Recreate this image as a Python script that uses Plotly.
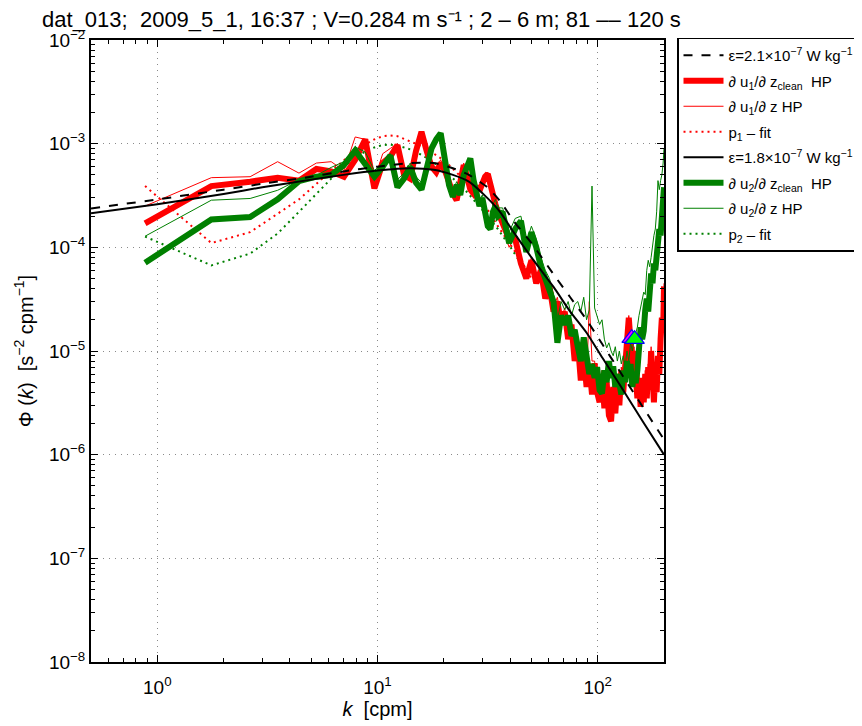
import plotly.graph_objects as go

# ---------------- data ----------------
K_LOW = [0.88, 1.76, 2.64, 3.52, 4.40, 5.28, 6.16, 7.04, 7.92, 8.80,
         9.68, 10.56, 11.44, 12.32, 13.20, 14.08, 14.96, 15.84, 16.72, 17.60,
         18.48, 19.36, 20.24, 21.12, 22.00, 22.88, 23.76, 24.64, 25.52, 26.40,
         27.28, 28.16, 29.04, 29.92, 30.80, 31.68, 32.56, 33.44, 34.32, 35.20]
K_HIGH = [37.0, 39.6, 42.2, 44.8, 47.4, 50.0, 52.6, 55.2, 57.8, 60.4,
          63.0, 65.6, 68.2, 70.8, 73.4, 76.0, 78.6, 81.2, 83.8, 86.4,
          89.0, 91.6, 94.2, 96.8, 99.4, 102.0, 104.6, 107.2, 109.8, 112.4,
          115.0, 117.6, 120.2, 122.8, 125.4, 128.0, 130.6, 133.2, 135.8, 138.4,
          141.0, 143.6, 146.2, 148.8, 151.4, 154.0, 156.6, 159.2, 161.8, 164.4,
          167.0, 169.6, 172.2, 174.8, 177.4, 180.0, 182.6, 185.2, 187.8, 190.4,
          193.0, 195.6, 198.2, 200.0]

# du1/dz clean HP (thick red)
U1C_LOW = [1.7e-4, 3.9e-4, 4.3e-4, 4.7e-4, 4.4e-4, 5.7e-4, 5.4e-4, 4.8e-4, 7.0e-4, 1.1e-3,
           3.7e-4, 6.5e-4, 7.5e-4, 9.7e-4, 5.0e-4, 4.6e-4, 8.5e-4, 1.3e-3, 8.5e-4, 6.0e-4,
           5.3e-4, 6.5e-4, 5.5e-4, 4.0e-4, 3.3e-4, 2.85e-4, 4.5e-4, 6.2e-4, 4.8e-4, 3.6e-4,
           3.3e-4, 3.9e-4, 3.5e-4, 4.2e-4, 4.8e-4, 5.1e-4, 4.0e-4, 3.0e-4, 2.6e-4, 2.2e-4]
U1C_HIGH = [1.7e-4, 1.2e-4, 1.2e-4, 7.0e-5, 5.0e-5, 7.5e-5, 4.5e-5, 6.0e-5, 3.2e-5, 4.2e-5,
            2.4e-5, 3.0e-5, 1.8e-5, 2.4e-5, 1.3e-5, 1.8e-5, 8.0e-6, 1.2e-5, 5.2e-6, 9.0e-6,
            4.5e-6, 7.5e-6, 3.8e-6, 7.6e-6, 4.0e-6, 3.2e-6, 6.0e-6, 2.8e-6, 5.0e-6, 2.4e-6,
            2.1e-6, 4.5e-6, 2.5e-6, 5.0e-6, 3.0e-6, 6.5e-6, 4.0e-6, 8.0e-6, 1.3e-5, 2.1e-5,
            1.2e-5, 7.0e-6, 1.0e-5, 5.0e-6, 3.5e-6, 5.5e-6, 2.9e-6, 4.5e-6, 3.2e-6, 6.0e-6,
            3.5e-6, 7.0e-6, 4.5e-6, 1.0e-5, 5.0e-6, 3.2e-6, 6.5e-6, 4.0e-6, 9.0e-6, 6.0e-6,
            1.3e-5, 2.1e-5, 1.5e-5, 4.2e-5]

# du1/dz HP (thin red)
U1_LOW = [2.5e-4, 4.7e-4, 4.8e-4, 6.7e-4, 5.2e-4, 6.5e-4, 6.7e-4, 5.5e-4, 1.16e-3, 1.1e-3,
          4.5e-4, 8.0e-4, 9.0e-4, 1.0e-3, 6.0e-4, 5.5e-4, 9.0e-4, 1.2e-3, 9.0e-4, 6.5e-4,
          5.8e-4, 7.0e-4, 5.5e-4, 4.2e-4, 3.5e-4, 3.0e-4, 4.8e-4, 6.5e-4, 5.0e-4, 3.8e-4,
          3.5e-4, 4.0e-4, 3.7e-4, 4.4e-4, 5.0e-4, 5.3e-4, 4.2e-4, 3.2e-4, 2.8e-4, 2.4e-4]
U1_HIGH = [1.6e-4, 1.0e-4, 1.3e-4, 8.0e-5, 5.5e-5, 8.0e-5, 5.0e-5, 6.5e-5, 3.6e-5, 4.5e-5,
           2.7e-5, 3.3e-5, 2.0e-5, 2.6e-5, 1.5e-5, 2.0e-5, 9.0e-6, 1.3e-5, 6.0e-6, 1.0e-5,
           5.0e-6, 3.0e-5, 8.0e-6, 8.0e-6, 4.5e-6, 3.6e-6, 6.5e-6, 3.0e-6, 5.5e-6, 2.6e-6,
           2.3e-6, 5.0e-6, 2.8e-6, 5.5e-6, 3.3e-6, 7.0e-6, 4.5e-6, 9.0e-6, 1.4e-5, 2.2e-5,
           1.3e-5, 8.0e-6, 1.1e-5, 5.5e-6, 4.0e-6, 6.0e-6, 3.2e-6, 5.0e-6, 3.5e-6, 6.5e-6,
           4.0e-6, 7.5e-6, 5.0e-6, 1.1e-5, 5.5e-6, 3.5e-6, 7.0e-6, 4.5e-6, 1.0e-5, 7.0e-6,
           1.4e-5, 2.3e-5, 1.7e-5, 4.5e-5]

# du2/dz clean HP (thick green)
U2C_LOW = [7.1e-5, 1.86e-4, 1.96e-4, 2.9e-4, 4.35e-4, 4.8e-4, 5.0e-4, 6.2e-4, 8.6e-4, 6.5e-4,
           4.8e-4, 6.0e-4, 7.7e-4, 3.8e-4, 4.6e-4, 6.0e-4, 4.2e-4, 3.6e-4, 6.0e-4, 9.0e-4,
           1.1e-3, 1.26e-3, 7.0e-4, 4.0e-4, 3.07e-4, 4.0e-4, 3.2e-4, 5.0e-4, 6.0e-4, 7.2e-4,
           4.5e-4, 3.3e-4, 2.5e-4, 3.0e-4, 2.3e-4, 1.6e-4, 1.5e-4, 2.2e-4, 2.5e-4, 2.0e-4]
U2C_HIGH = [2.2e-4, 1.1e-4, 1.5e-4, 1.8e-4, 9.0e-5, 1.4e-4, 1.0e-4, 6.5e-5, 5.0e-5, 4.0e-5,
            3.0e-5, 1.2e-5, 2.2e-5, 1.8e-5, 2.2e-5, 1.4e-5, 1.6e-5, 1.1e-5, 8.0e-6, 1.35e-5,
            9.0e-6, 6.0e-6, 7.5e-6, 5.5e-6, 7.0e-6, 4.2e-6, 3.9e-6, 6.5e-6, 5.0e-6, 8.0e-6,
            5.5e-6, 7.1e-6, 4.5e-6, 6.0e-6, 4.9e-6, 3.8e-6, 6.5e-6, 5.0e-6, 8.0e-6, 5.5e-6,
            7.5e-6, 4.5e-6, 6.0e-6, 4.9e-6, 6.5e-6, 1.0e-5, 1.7e-5, 1.3e-5, 1.56e-5, 2.5e-5,
            3.2e-5, 2.4e-5, 4.2e-5, 5.6e-5, 4.5e-5, 7.0e-5, 6.0e-5, 9.0e-5, 1.17e-4, 1.5e-4,
            1.3e-4, 2.3e-4, 3.0e-4, 3.8e-4]

# du2/dz HP (thin green)
U2_LOW = [1.28e-4, 2.85e-4, 2.96e-4, 3.55e-4, 4.5e-4, 4.95e-4, 5.9e-4, 6.7e-4, 9.3e-4, 8.3e-4,
          5.5e-4, 6.5e-4, 8.0e-4, 4.5e-4, 5.2e-4, 6.5e-4, 4.8e-4, 4.2e-4, 6.5e-4, 9.0e-4,
          1.0e-3, 1.2e-3, 7.5e-4, 4.5e-4, 3.5e-4, 4.3e-4, 3.6e-4, 5.2e-4, 6.2e-4, 7.0e-4,
          4.8e-4, 3.6e-4, 2.8e-4, 3.2e-4, 2.6e-4, 2.0e-4, 1.8e-4, 2.6e-4, 2.9e-4, 2.4e-4]
U2_HIGH = [2.4e-4, 1.4e-4, 1.9e-4, 2.0e-4, 1.1e-4, 1.6e-4, 1.2e-4, 8.0e-5, 6.0e-5, 5.0e-5,
           3.5e-5, 2.0e-5, 3.0e-5, 2.5e-5, 3.0e-5, 2.2e-5, 2.8e-5, 3.0e-5, 2.4e-5, 3.3e-5,
           2.0e-5, 2.5e-5, 3.9e-4, 2.6e-5, 2.2e-5, 1.8e-5, 2.0e-5, 1.3e-5, 1.07e-5, 1.2e-5,
           1.0e-5, 9.0e-6, 1.1e-5, 8.0e-6, 1.0e-5, 7.5e-6, 9.0e-6, 7.0e-6, 1.0e-5, 8.0e-6,
           1.2e-5, 1.0e-5, 1.3e-5, 1.5e-5, 1.7e-5, 2.2e-5, 2.6e-5, 3.2e-5, 3.7e-5, 3.5e-5,
           6.0e-5, 7.5e-5, 6.5e-5, 8.0e-5, 1.1e-4, 1.3e-4, 1.5e-4, 2.2e-4, 4.4e-4, 3.6e-4,
           4.4e-4, 5.0e-4, 6.5e-4, 9.0e-4]

# polynomial fits (dotted)
FIT1_K = [0.88, 1.76, 2.64, 3.52, 4.40, 5.28, 6.16, 7.04, 7.92, 8.80, 9.68, 10.56, 11.44, 12.32,
          13.20, 14.08, 15.84, 17.60, 20.24, 22.88, 25.52, 28.16, 31.68, 35.20, 39.6, 44.8, 50.0, 52.6]
FIT1_V = [3.9e-4, 1.1e-4, 1.4e-4, 2.1e-4, 2.9e-4, 4.1e-4, 5.5e-4, 6.9e-4, 8.5e-4, 9.8e-4, 1.1e-3,
          1.18e-3, 1.2e-3, 1.18e-3, 1.12e-3, 1.05e-3, 9.5e-4, 8.3e-4, 6.8e-4, 5.3e-4, 4.2e-4,
          3.2e-4, 2.3e-4, 1.6e-4, 1.1e-4, 7.5e-5, 5.0e-5, 4.5e-5]
FIT2_K = [0.88, 1.76, 2.64, 3.52, 4.40, 5.28, 6.16, 7.04, 7.92, 8.80, 9.68, 10.56, 11.44, 12.32,
          13.20, 14.08, 15.84, 17.60, 20.24, 22.88, 25.52, 28.16, 31.68, 35.20, 39.6, 44.8]
FIT2_V = [1.27e-4, 6.7e-5, 8.7e-5, 1.36e-4, 2.2e-4, 3.3e-4, 4.6e-4, 6.0e-4, 7.3e-4, 8.4e-4, 9.2e-4,
          9.7e-4, 9.8e-4, 9.6e-4, 9.2e-4, 8.8e-4, 7.8e-4, 6.8e-4, 5.4e-4, 4.3e-4, 3.4e-4,
          2.7e-4, 2.0e-4, 1.5e-4, 1.05e-4, 7.0e-5]

# model spectra
MODEL_K = [0.5, 1, 2, 3, 5, 7, 10, 14, 18, 22, 26, 31.5, 36, 41.5, 50, 63, 75, 89, 105, 127, 160, 200]
MODEL1_V = [2.37e-4, 2.9e-4, 3.6e-4, 4.1e-4, 4.8e-4, 5.4e-4, 6.0e-4, 6.5e-4, 6.5e-4, 5.8e-4, 5.0e-4,
            3.8e-4, 2.8e-4, 1.8e-4, 1.1e-4, 5.5e-5, 3.3e-5, 2.0e-5, 1.16e-5, 6.2e-6, 2.9e-6, 1.4e-6]
MODEL2_V = [2.13e-4, 2.6e-4, 3.27e-4, 3.8e-4, 4.5e-4, 5.0e-4, 5.5e-4, 5.8e-4, 5.6e-4, 5.0e-4, 4.3e-4,
            3.0e-4, 2.2e-4, 1.4e-4, 8.0e-5, 4.15e-5, 2.4e-5, 1.5e-5, 8.6e-6, 4.6e-6, 2.1e-6, 1.0e-6]

# markers
MARK_K = [142.7, 147.0]
MARK_V = [1.33e-5, 1.30e-5]

LEGEND_NAMES = [
    "ε=2.1×10<sup>−7</sup> W kg<sup>−1</sup>",
    "∂ u<sub>1</sub>/∂ z<sub>clean</sub>  HP",
    "∂ u<sub>1</sub>/∂ z HP",
    "p<sub>1</sub> – fit",
    "ε=1.8×10<sup>−7</sup> W kg<sup>−1</sup>",
    "∂ u<sub>2</sub>/∂ z<sub>clean</sub>  HP",
    "∂ u<sub>2</sub>/∂ z HP",
    "p<sub>2</sub> – fit",
]
TITLE = "dat_013;  2009_5_1, 16:37 ; V=0.284 m s⁻¹ ; 2 – 6 m; 81 –– 120 s"

RED = "#ff0000"
GREEN = "#008000"
K = K_LOW + K_HIGH
FIT_DASH = "2px,4px"


def line_trace(x, y, idx, **line):
    return go.Scatter(x=x, y=y, mode="lines", name=LEGEND_NAMES[idx],
                      legendrank=idx + 1, legendgroup="g%d" % idx, line=line)


fig = go.Figure()
fig.add_trace(line_trace(FIT1_K, FIT1_V, 3, color=RED, width=2, dash=FIT_DASH))
fig.add_trace(line_trace(FIT2_K, FIT2_V, 7, color=GREEN, width=2, dash=FIT_DASH))
fig.add_trace(line_trace(K, U1C_LOW + U1C_HIGH, 1, color=RED, width=6))
fig.add_trace(line_trace(K, U1_LOW + U1_HIGH, 2, color=RED, width=1))
fig.add_trace(line_trace(K, U2C_LOW + U2C_HIGH, 5, color=GREEN, width=6))
fig.add_trace(line_trace(K, U2_LOW + U2_HIGH, 6, color=GREEN, width=1))
fig.add_trace(line_trace(MODEL_K, MODEL1_V, 0, color="black", width=2, dash="dash",
                         shape="spline", smoothing=0.6))
fig.add_trace(line_trace(MODEL_K, MODEL2_V, 4, color="black", width=2,
                         shape="spline", smoothing=0.6))
fig.add_trace(go.Scatter(x=MARK_K, y=MARK_V, mode="markers", showlegend=False,
                         marker=dict(symbol="triangle-up", size=17,
                                     color=["#ff00ff", "#00ff00"],
                                     line=dict(color="#0000ff", width=1.2))))

FONT = "Liberation Sans, Arial, Helvetica, sans-serif"

x_major = [1, 10, 100]
x_minor = [m * d for d in [0.1, 1, 10, 100] for m in range(2, 10) if 0.5 <= m * d <= 200]
y_major = [10.0 ** e for e in range(-8, -1)]
y_minor = [m * 10.0 ** e for e in range(-8, -2) for m in range(2, 10)]

axis_common = dict(
    type="log", showline=True, linecolor="black", linewidth=2, mirror="allticks",
    ticks="inside", ticklen=7, tickcolor="black", tickwidth=1,
    showgrid=True, gridcolor="#8a8a8a", griddash="1px,5px", gridwidth=1,
    zeroline=False, tickfont=dict(family=FONT, size=19, color="black"),
)

fig.update_xaxes(
    **axis_common, range=[-0.30103, 2.30103],
    tickmode="array", tickvals=x_major,
    ticktext=["10<sup>0</sup>", "10<sup>1</sup>", "10<sup>2</sup>"],
    ticklabelstandoff=7,
    minor=dict(tickmode="array", tickvals=x_minor, ticks="inside", ticklen=4,
               tickcolor="black", showgrid=False),
    title=dict(text="<i>k</i>  [cpm]", font=dict(family=FONT, size=20, color="black"), standoff=4),
)
fig.update_yaxes(
    **axis_common, range=[-8, -2],
    tickmode="array", tickvals=y_major,
    ticktext=["10<sup>−%d</sup>" % i for i in range(8, 1, -1)],
    minor=dict(tickmode="array", tickvals=y_minor, ticks="inside", ticklen=4,
               tickcolor="black", showgrid=False),
    title=dict(text="Φ (<i>k</i>)  [s<sup>−2</sup> cpm<sup>−1</sup>]",
               font=dict(family=FONT, size=20, color="black"), standoff=10),
)

# page body adds an 8 px offset; plot area in page pixels: x 91..664, y 40..662
fig.update_layout(
    width=862, height=726,
    margin=dict(l=83, r=206, t=32, b=72, autoexpand=False),
    paper_bgcolor="white", plot_bgcolor="white",
    font=dict(family=FONT, color="black"),
    title=dict(text=TITLE, x=0.41, xanchor="center", y=0.985, yanchor="middle",
               font=dict(family=FONT, size=22, color="black")),
    showlegend=True,
    legend=dict(x=1.0227, xanchor="left", y=1.004, yanchor="top",
                bordercolor="black", borderwidth=1.5, bgcolor="white",
                font=dict(family=FONT, size=15, color="black"),
                traceorder="grouped", tracegroupgap=3, itemwidth=40,
                entrywidthmode="pixels", entrywidth=160),
)

fig.write_html("out.html")
